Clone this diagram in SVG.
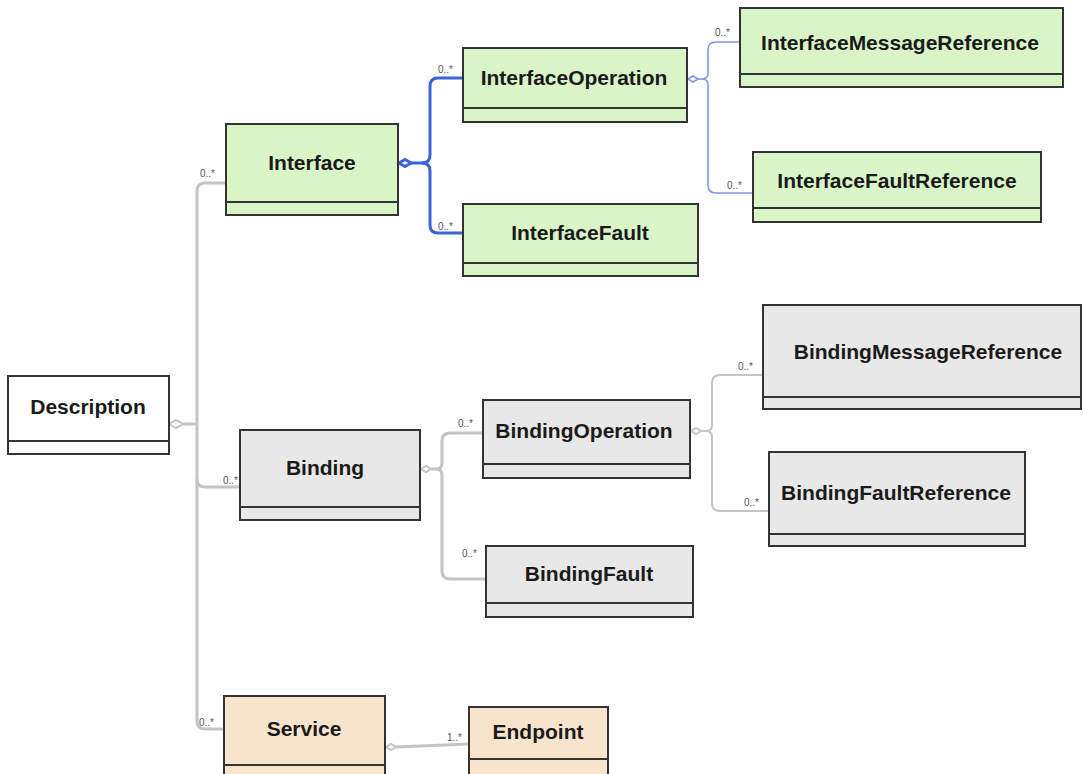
<svg xmlns="http://www.w3.org/2000/svg" width="1083" height="774" viewBox="0 0 1083 774">
<style>
.box{stroke:#333;stroke-width:2}
.g{fill:#d9f5c8}
.gr{fill:#e8e8e8}
.pe{fill:#f8e4cc}
.w{fill:#fff}
.div{stroke:#333;stroke-width:2;fill:none}
.t{font-family:"Liberation Sans",Arial,sans-serif;font-weight:bold;font-size:21px;fill:#1a1a1a;text-anchor:middle}
.m{font-family:"Liberation Sans",Arial,sans-serif;font-size:10px;fill:#555}
.cg{fill:none;stroke:#c4c4c4;stroke-width:3}
.cg2{fill:none;stroke:#c4c4c4;stroke-width:2}
.cb{fill:none;stroke:#3a63d8;stroke-width:3}
.cb2{fill:none;stroke:#7f98e2;stroke-width:1.6}
</style>
<rect width="1083" height="774" fill="#fff"/>
<g id="connectors">
  <!-- Description trunk -->
  <path class="cg2" d="M169,424 L176,420 L183,424 L176,428 Z" fill="#fff"/>
  <path class="cg" d="M183,424 H197"/>
  <path class="cg" d="M226,183 H205 Q197,183 197,191 V721 Q197,729 205,729 H224"/>
  <path class="cg" d="M197,479 Q197,487 205,487 H240"/>
  <text class="m" x="200" y="177">0..*</text>
  <text class="m" x="223" y="484">0..*</text>
  <text class="m" x="199" y="726">0..*</text>
  <!-- Interface -->
  <path class="cb" d="M399,163 L405,159.5 L411,163 L405,166.5 Z" fill="#fff"/>
  <path class="cb" d="M411,163 H422 Q430,163 430,155 V86 Q430,78 438,78 H463"/>
  <path class="cb" d="M422,163 Q430,163 430,171 V225 Q430,233 438,233 H463"/>
  <text class="m" x="438" y="73">0..*</text>
  <text class="m" x="438" y="230">0..*</text>
  <!-- InterfaceOperation -->
  <path class="cb2" d="M688,79 L693,76 L698,79 L693,82 Z" fill="#fff"/>
  <path class="cb2" d="M698,79 H702 Q708,79 708,73 V50 Q708,42 716,42 H740"/>
  <path class="cb2" d="M702,79 Q708,79 708,85 V185 Q708,193 716,193 H753"/>
  <text class="m" x="715" y="36">0..*</text>
  <text class="m" x="727" y="189">0..*</text>
  <!-- Binding -->
  <path class="cg2" d="M421,469 L426,466 L431,469 L426,472 Z" fill="#fff"/>
  <path class="cg" d="M431,469 H436 Q442,469 442,463 V441 Q442,433 450,433 H483"/>
  <path class="cg" d="M436,469 Q442,469 442,475 V571 Q442,579 450,579 H486"/>
  <text class="m" x="458" y="427">0..*</text>
  <text class="m" x="462" y="557">0..*</text>
  <!-- BindingOperation -->
  <path class="cg2" d="M691,431 L696,428 L701,431 L696,434 Z" fill="#fff"/>
  <path class="cg2" d="M701,431 H706 Q712,431 712,425 V383 Q712,375 720,375 H763"/>
  <path class="cg2" d="M706,431 Q712,431 712,437 V503 Q712,511 720,511 H769"/>
  <text class="m" x="738" y="370">0..*</text>
  <text class="m" x="744" y="506">0..*</text>
  <!-- Service -->
  <path class="cg2" d="M386,747 L391,744 L396,747 L391,750 Z" fill="#fff"/>
  <path class="cg" d="M396,747 L469,744"/>
  <text class="m" x="447" y="741">1..*</text>
</g>
<g id="Description">
  <rect class="box w" x="8" y="376" width="161" height="78"/>
  <path class="div" d="M8,441 H169"/>
  <text class="t" x="88" y="414">Description</text>
</g>
<g id="Interface">
  <rect class="box g" x="226" y="124" width="172" height="91"/>
  <path class="div" d="M226,202 H398"/>
  <text class="t" x="312" y="170">Interface</text>
</g>
<g id="InterfaceOperation">
  <rect class="box g" x="463" y="48" width="224" height="74"/>
  <path class="div" d="M463,108 H687"/>
  <text class="t" x="574" y="85">InterfaceOperation</text>
</g>
<g id="InterfaceFault">
  <rect class="box g" x="463" y="204" width="235" height="72"/>
  <path class="div" d="M463,263 H698"/>
  <text class="t" x="580" y="240">InterfaceFault</text>
</g>
<g id="InterfaceMessageReference">
  <rect class="box g" x="740" y="8" width="323" height="79"/>
  <path class="div" d="M740,74 H1063"/>
  <text class="t" x="900" y="50">InterfaceMessageReference</text>
</g>
<g id="InterfaceFaultReference">
  <rect class="box g" x="753" y="152" width="288" height="70"/>
  <path class="div" d="M753,208 H1041"/>
  <text class="t" x="897" y="188">InterfaceFaultReference</text>
</g>
<g id="Binding">
  <rect class="box gr" x="240" y="430" width="180" height="90"/>
  <path class="div" d="M240,507 H420"/>
  <text class="t" x="325" y="475">Binding</text>
</g>
<g id="BindingOperation">
  <rect class="box gr" x="483" y="400" width="207" height="78"/>
  <path class="div" d="M483,464 H690"/>
  <text class="t" x="584" y="438">BindingOperation</text>
</g>
<g id="BindingFault">
  <rect class="box gr" x="486" y="546" width="207" height="71"/>
  <path class="div" d="M486,603 H693"/>
  <text class="t" x="589" y="581">BindingFault</text>
</g>
<g id="BindingMessageReference">
  <rect class="box gr" x="763" y="305" width="318" height="104"/>
  <path class="div" d="M763,397 H1081"/>
  <text class="t" x="928" y="359">BindingMessageReference</text>
</g>
<g id="BindingFaultReference">
  <rect class="box gr" x="769" y="452" width="256" height="94"/>
  <path class="div" d="M769,534 H1025"/>
  <text class="t" x="896" y="500">BindingFaultReference</text>
</g>
<g id="Service">
  <rect class="box pe" x="224" y="696" width="161" height="84"/>
  <path class="div" d="M224,765 H385"/>
  <text class="t" x="304" y="736">Service</text>
</g>
<g id="Endpoint">
  <rect class="box pe" x="469" y="707" width="139" height="73"/>
  <path class="div" d="M469,759 H608"/>
  <text class="t" x="538" y="739">Endpoint</text>
</g>
</svg>
